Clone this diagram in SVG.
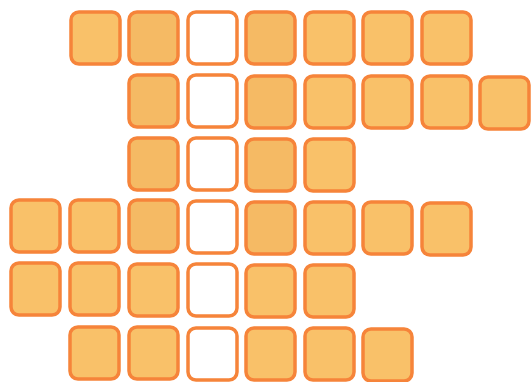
<svg xmlns="http://www.w3.org/2000/svg" width="531" height="382" viewBox="0 0 531 382">
<style>
.f{fill:#F9C169;stroke:#F6843A;stroke-width:3.5}
.d{fill:#F5BA64;stroke:#F6843A;stroke-width:3.5}
.w{fill:#FFFFFF;stroke:#F6843A;stroke-width:3.5}
</style>
<defs>
<rect id="sq" x="0" y="0" width="49" height="52" rx="8" ry="8"/>
</defs>
<rect width="531" height="382" fill="#FFFFFF"/>
<g id="row0">
<g id="r0c1"><use href="#sq" class="f" x="71" y="12"/></g>
<g id="r0c2"><use href="#sq" class="d" x="129" y="12"/></g>
<g id="r0c3"><use href="#sq" class="w" x="188" y="12"/></g>
<g id="r0c4"><use href="#sq" class="d" x="246" y="12"/></g>
<g id="r0c5"><use href="#sq" class="f" x="305" y="12"/></g>
<g id="r0c6"><use href="#sq" class="f" x="363" y="12"/></g>
<g id="r0c7"><use href="#sq" class="f" x="422" y="12"/></g>
</g>
<g id="row1">
<g id="r1c2"><use href="#sq" class="d" x="129" y="75"/></g>
<g id="r1c3"><use href="#sq" class="w" x="188" y="75"/></g>
<g id="r1c4"><use href="#sq" class="d" x="246" y="76"/></g>
<g id="r1c5"><use href="#sq" class="f" x="305" y="76"/></g>
<g id="r1c6"><use href="#sq" class="f" x="363" y="76"/></g>
<g id="r1c7"><use href="#sq" class="f" x="422" y="76"/></g>
<g id="r1c8"><use href="#sq" class="f" x="480" y="77"/></g>
</g>
<g id="row2">
<g id="r2c2"><use href="#sq" class="d" x="129" y="138"/></g>
<g id="r2c3"><use href="#sq" class="w" x="188" y="138"/></g>
<g id="r2c4"><use href="#sq" class="d" x="246" y="139"/></g>
<g id="r2c5"><use href="#sq" class="f" x="305" y="139"/></g>
</g>
<g id="row3">
<g id="r3c0"><use href="#sq" class="f" x="11" y="200"/></g>
<g id="r3c1"><use href="#sq" class="f" x="70" y="200"/></g>
<g id="r3c2"><use href="#sq" class="d" x="129" y="200"/></g>
<g id="r3c3"><use href="#sq" class="w" x="188" y="201"/></g>
<g id="r3c4"><use href="#sq" class="d" x="246" y="202"/></g>
<g id="r3c5"><use href="#sq" class="f" x="305" y="202"/></g>
<g id="r3c6"><use href="#sq" class="f" x="363" y="202"/></g>
<g id="r3c7"><use href="#sq" class="f" x="422" y="203"/></g>
</g>
<g id="row4">
<g id="r4c0"><use href="#sq" class="f" x="11" y="263"/></g>
<g id="r4c1"><use href="#sq" class="f" x="70" y="263"/></g>
<g id="r4c2"><use href="#sq" class="f" x="129" y="264"/></g>
<g id="r4c3"><use href="#sq" class="w" x="188" y="264"/></g>
<g id="r4c4"><use href="#sq" class="f" x="246" y="265"/></g>
<g id="r4c5"><use href="#sq" class="f" x="305" y="265"/></g>
</g>
<g id="row5">
<g id="r5c1"><use href="#sq" class="f" x="70" y="327"/></g>
<g id="r5c2"><use href="#sq" class="f" x="129" y="327"/></g>
<g id="r5c3"><use href="#sq" class="w" x="188" y="328"/></g>
<g id="r5c4"><use href="#sq" class="f" x="246" y="328"/></g>
<g id="r5c5"><use href="#sq" class="f" x="305" y="328"/></g>
<g id="r5c6"><use href="#sq" class="f" x="363" y="329"/></g>
</g>
<g id="connectors"/>
</svg>
